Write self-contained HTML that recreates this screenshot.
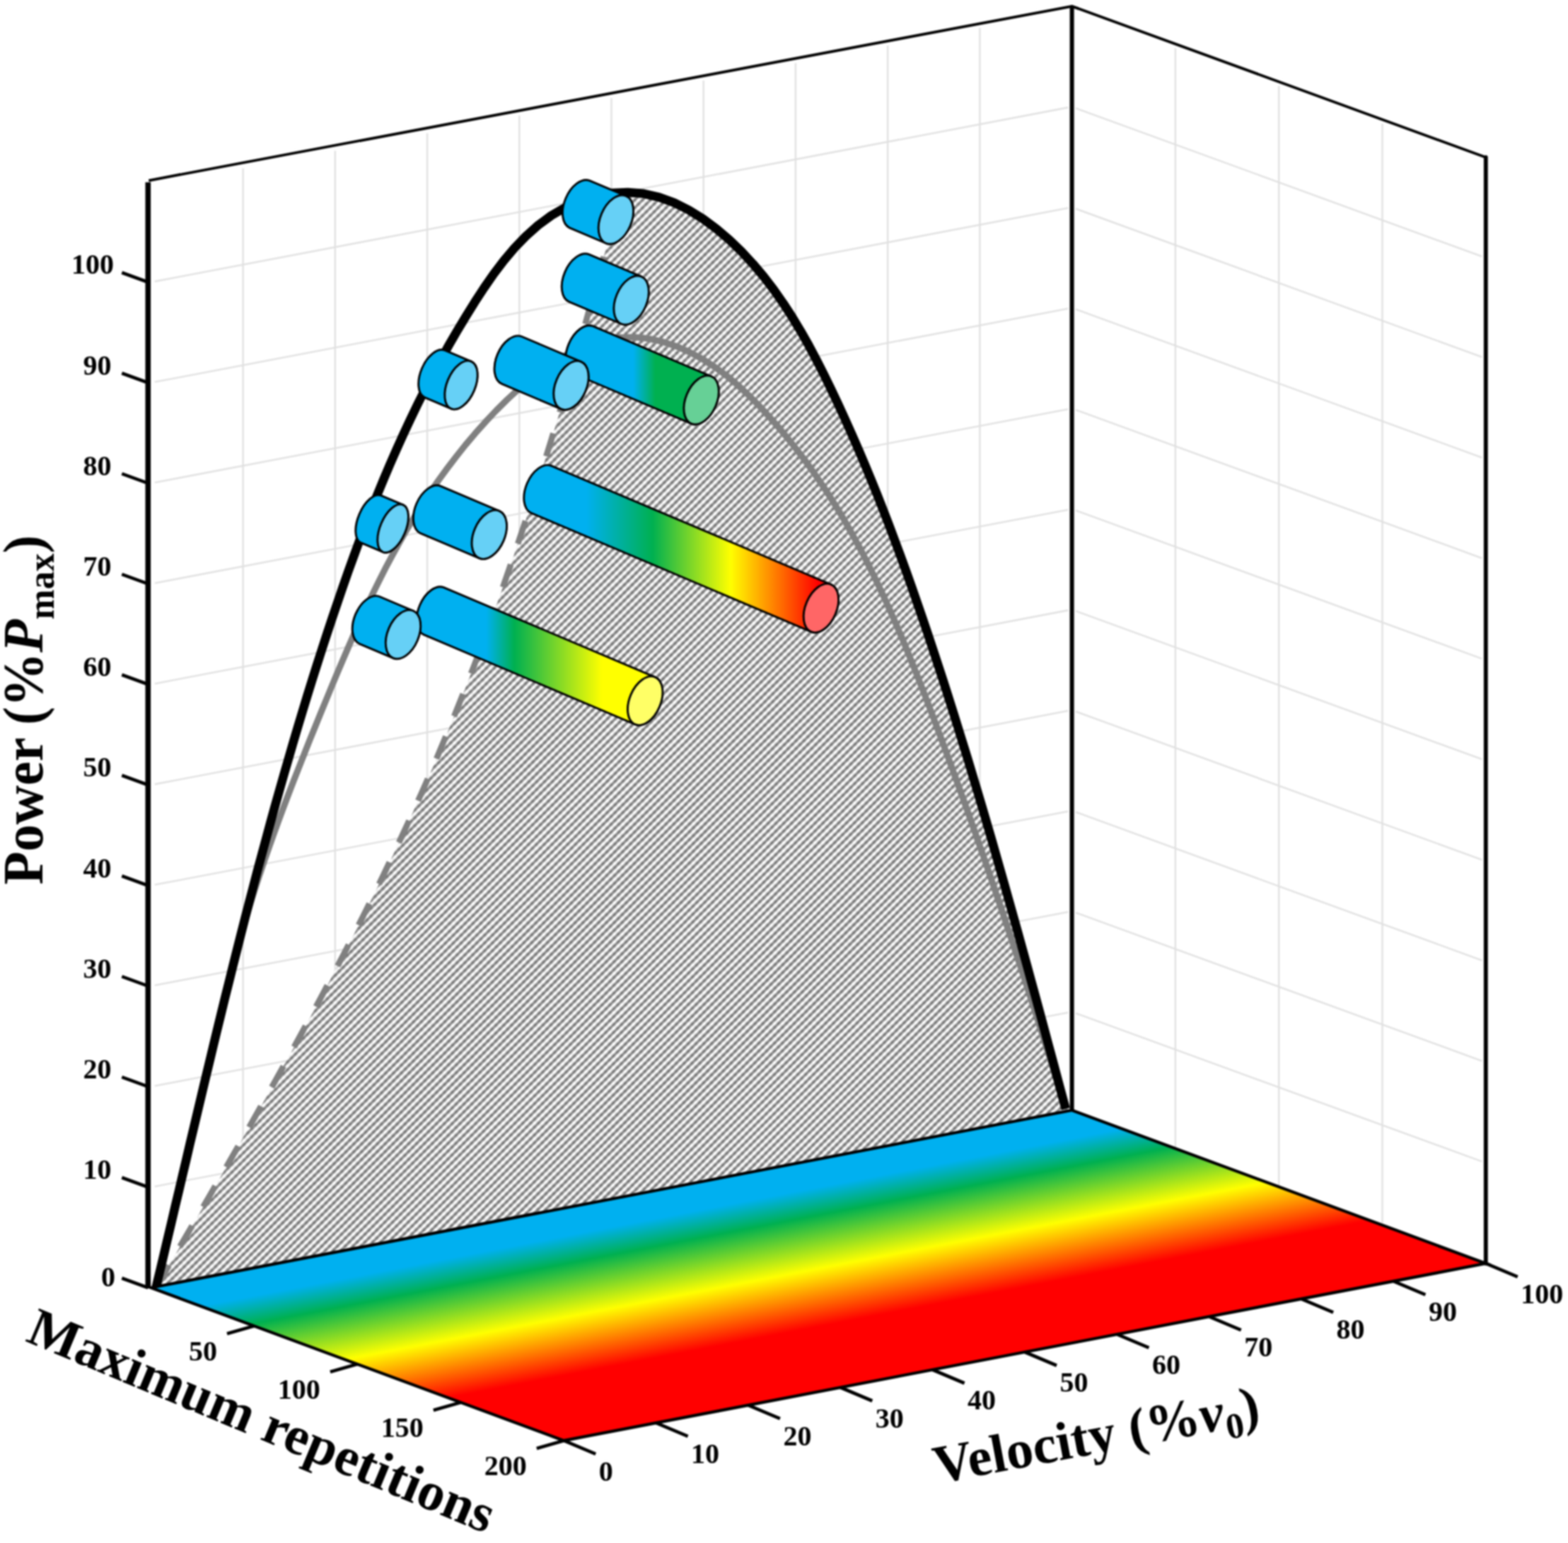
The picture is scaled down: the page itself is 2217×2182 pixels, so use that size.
<!DOCTYPE html>
<html lang="en"><head><meta charset="utf-8"><title>Power-velocity-repetitions</title>
<style>html,body{margin:0;padding:0;background:#fff}svg{display:block;filter:blur(0.8px)}</style></head>
<body>
<svg xmlns="http://www.w3.org/2000/svg" width="2217" height="2182" viewBox="0 0 2217 2182">
<defs><linearGradient id="gfloor" gradientUnits="userSpaceOnUse" x1="213.4" y1="1821.0" x2="274.3" y2="2137.7"><stop offset="0" stop-color="#00B0F0"/><stop offset="0.12" stop-color="#00B0F0"/><stop offset="0.24" stop-color="#00B050"/><stop offset="0.47" stop-color="#FFFF00"/><stop offset="0.72" stop-color="#FF0000"/><stop offset="1" stop-color="#FF0000"/></linearGradient>
<pattern id="hatch" patternUnits="userSpaceOnUse" width="7.9" height="7.8" patternTransform="rotate(-45)"><rect width="7.9" height="7.8" fill="#ececec"/><rect y="0" width="7.9" height="1.8" fill="#8e8e8e"/><rect y="6.0" width="7.9" height="1.8" fill="#8e8e8e"/><ellipse cx="0" cy="0" rx="2.6" ry="1.75" fill="#747474"/><ellipse cx="0" cy="7.8" rx="2.6" ry="1.75" fill="#747474"/><ellipse cx="7.9" cy="0" rx="2.6" ry="1.75" fill="#747474"/><ellipse cx="7.9" cy="7.8" rx="2.6" ry="1.75" fill="#747474"/><ellipse cx="3.95" cy="3.9" rx="2.6" ry="1.9" fill="#fff"/></pattern>
<filter id="soft" x="-2%" y="-2%" width="104%" height="104%"><feGaussianBlur stdDeviation="0.6"/></filter>
<linearGradient id="gc6" gradientUnits="userSpaceOnUse" x1="829.0" y1="0" x2="1157.0" y2="0"><stop offset="0.0000" stop-color="#00B0F0"/><stop offset="0.2866" stop-color="#00B050"/><stop offset="0.6220" stop-color="#FFFF00"/><stop offset="1.0000" stop-color="#FF0000"/></linearGradient>
<linearGradient id="gc9" gradientUnits="userSpaceOnUse" x1="687.5" y1="0" x2="851.0" y2="0"><stop offset="0.0000" stop-color="#00B0F0"/><stop offset="0.2440" stop-color="#00B050"/><stop offset="1.0000" stop-color="#FFFF00"/></linearGradient>
<linearGradient id="gc3" gradientUnits="userSpaceOnUse" x1="895.5" y1="0" x2="926.5" y2="0"><stop offset="0.0000" stop-color="#00B0F0"/><stop offset="1.0000" stop-color="#00B050"/></linearGradient></defs>
<rect width="2217" height="2182" fill="#fff"/>
<path d="M218.9,1677.8 L1510.1,1431.8 M1521.1,1432.8 L2095.3,1642.5 M218.9,1535.6 L1510.1,1289.6 M1521.1,1290.6 L2095.3,1500.3 M218.9,1393.4 L1510.1,1147.4 M1521.1,1148.4 L2095.3,1358.1 M218.9,1251.2 L1510.1,1005.2 M1521.1,1006.2 L2095.3,1215.9 M218.9,1109.0 L1510.1,863.0 M1521.1,864.0 L2095.3,1073.7 M218.9,966.8 L1510.1,720.8 M1521.1,721.8 L2095.3,931.5 M218.9,824.6 L1510.1,578.6 M1521.1,579.6 L2095.3,789.3 M218.9,682.4 L1510.1,436.4 M1521.1,437.4 L2095.3,647.1 M218.9,540.2 L1510.1,294.2 M1521.1,295.2 L2095.3,504.9 M218.9,398.0 L1510.1,152.0 M1521.1,153.0 L2095.3,362.7 M343.6,1792.2 L343.6,238.0 M473.8,1767.4 L473.8,213.2 M604.1,1742.6 L604.1,188.4 M734.3,1717.8 L734.3,163.6 M864.5,1693.0 L864.5,138.8 M994.7,1668.2 L994.7,114.0 M1124.9,1643.4 L1124.9,89.2 M1255.2,1618.6 L1255.2,64.4 M1385.4,1593.8 L1385.4,39.6 M1661.9,1622.4 L1661.9,68.2 M1808.2,1675.8 L1808.2,121.6 M1954.5,1729.3 L1954.5,175.1" fill="none" stroke="#e0e0e0" stroke-width="2.3"/>
<path d="M221.6,1818.8 L232.5,1800.3 L243.3,1781.8 L254.1,1763.4 L264.9,1744.9 L275.8,1726.4 L286.5,1707.9 L297.3,1689.3 L308.1,1670.8 L318.8,1652.3 L329.5,1633.7 L340.2,1615.1 L350.8,1596.5 L361.4,1577.9 L372.0,1559.2 L382.5,1540.6 L392.9,1521.9 L403.3,1503.1 L413.7,1484.4 L424.0,1465.6 L434.2,1446.8 L444.4,1428.0 L454.5,1409.2 L464.5,1390.3 L474.5,1371.3 L484.4,1352.4 L494.2,1333.4 L503.9,1314.4 L513.5,1295.3 L523.1,1276.2 L532.5,1257.1 L541.9,1237.9 L551.1,1218.7 L560.3,1199.4 L569.3,1180.1 L578.3,1160.7 L587.1,1141.3 L595.8,1121.9 L604.4,1102.4 L612.9,1082.8 L621.2,1063.2 L629.4,1043.6 L637.6,1023.9 L645.6,1004.2 L653.5,984.4 L661.3,964.5 L669.0,944.7 L676.6,924.8 L684.0,904.8 L691.4,884.8 L698.7,864.8 L705.9,844.8 L713.0,824.7 L720.0,804.5 L727.0,784.3 L733.8,764.1 L740.6,743.9 L747.2,723.7 L753.8,703.4 L760.4,683.0 L766.8,662.7 L773.2,642.3 L779.5,621.9 L785.7,601.5 L791.9,581.0 L798.0,560.5 L804.0,540.0 L810.0,519.5 L815.9,499.0 L821.8,478.4 L827.6,457.8 L833.3,437.2 L839.0,416.6 L844.7,396.0 L850.3,375.4 L855.9,354.7 L861.4,334.0 L866.9,313.4 L872.4,292.7 L877.8,272.0 L887.5,271.9 L910.0,273.8 L931.9,278.9 L953.2,286.7 L973.9,297.0 L993.8,309.4 L1012.9,323.5 L1031.1,339.0 L1048.3,355.6 L1064.4,372.9 L1079.6,390.9 L1093.8,409.4 L1107.2,428.5 L1119.9,448.0 L1131.9,467.9 L1143.4,488.2 L1154.3,508.7 L1164.9,529.5 L1175.1,550.4 L1185.0,571.4 L1194.7,592.5 L1204.2,613.7 L1213.5,635.0 L1222.6,656.4 L1231.5,677.8 L1240.2,699.4 L1248.7,721.0 L1257.0,742.6 L1265.2,764.4 L1273.3,786.2 L1281.2,808.0 L1289.0,829.9 L1296.6,851.9 L1304.2,873.9 L1311.7,896.0 L1319.0,918.0 L1326.3,940.2 L1333.5,962.3 L1340.6,984.5 L1347.7,1006.8 L1354.6,1029.0 L1361.5,1051.3 L1368.4,1073.6 L1375.1,1096.0 L1381.8,1118.3 L1388.5,1140.7 L1395.0,1163.1 L1401.6,1185.6 L1408.0,1208.0 L1414.4,1230.5 L1420.8,1253.0 L1427.1,1275.4 L1433.4,1297.9 L1439.7,1320.4 L1445.9,1343.0 L1452.1,1365.5 L1458.2,1388.0 L1464.4,1410.5 L1470.5,1433.0 L1476.6,1455.6 L1482.6,1478.1 L1488.7,1500.6 L1494.7,1523.1 L1500.7,1545.6 L1506.8,1568.1 L1515.6,1570.0 L217.4,1821.0 Z" fill="url(#hatch)" filter="url(#soft)"/>
<path d="M220.4,1821.0 L225.7,1801.0 L230.8,1781.0 L235.8,1760.9 L240.7,1740.9 L245.5,1720.8 L250.2,1700.7 L254.9,1680.5 L259.5,1660.4 L264.0,1640.3 L268.5,1620.1 L273.0,1600.0 L277.5,1579.8 L281.9,1559.7 L286.5,1539.6 L291.0,1519.4 L295.6,1499.3 L300.2,1479.2 L305.0,1459.2 L309.8,1439.1 L314.7,1419.1 L319.8,1399.1 L325.0,1379.1 L330.3,1359.2 L335.7,1339.3 L341.4,1319.4 L347.2,1299.6 L353.3,1279.8 L359.5,1260.1 L365.9,1240.4 L372.5,1220.8 L379.3,1201.2 L386.2,1181.7 L393.3,1162.2 L400.5,1142.8 L407.8,1123.4 L415.2,1104.1 L422.8,1084.8 L430.4,1065.6 L438.0,1046.4 L445.8,1027.3 L453.5,1008.2 L461.4,989.1 L469.2,970.1 L477.1,951.2 L485.1,932.4 L493.2,913.6 L501.4,894.9 L509.8,876.3 L518.4,857.7 L527.1,839.3 L536.2,821.0 L545.4,802.8 L555.0,784.8 L564.9,766.8 L575.1,749.0 L585.7,731.4 L596.7,713.9 L608.1,696.6 L619.9,679.4 L632.2,662.5 L645.0,645.7 L658.3,629.0 L672.2,612.6 L686.6,596.4 L701.6,580.5 L717.2,565.0 L733.2,550.2 L749.8,536.1 L766.9,523.1 L784.4,511.3 L802.3,501.0 L820.6,492.2 L839.3,485.2 L858.2,480.1 L877.5,477.3 L897.1,476.8 L916.8,478.8 L936.6,483.2 L956.2,489.7 L975.3,498.1 L993.6,508.0 L1011.2,519.4 L1028.0,531.9 L1044.0,545.4 L1059.4,559.8 L1074.2,574.7 L1088.4,590.1 L1102.1,605.8 L1115.2,621.6 L1127.9,637.6 L1140.2,653.8 L1152.0,670.3 L1163.4,687.0 L1174.5,704.0 L1185.2,721.2 L1195.6,738.7 L1205.6,756.5 L1215.4,774.5 L1224.8,792.6 L1234.0,811.0 L1242.9,829.5 L1251.6,848.2 L1260.1,867.0 L1268.4,886.0 L1276.5,905.1 L1284.4,924.2 L1292.1,943.5 L1299.8,962.8 L1307.3,982.2 L1314.7,1001.5 L1322.0,1020.9 L1329.3,1040.4 L1336.4,1059.8 L1343.6,1079.2 L1350.6,1098.6 L1357.6,1118.0 L1364.6,1137.4 L1371.5,1156.8 L1378.3,1176.2 L1385.1,1195.7 L1391.9,1215.1 L1398.6,1234.6 L1405.2,1254.0 L1411.8,1273.5 L1418.4,1293.0 L1424.9,1312.5 L1431.4,1332.0 L1437.8,1351.6 L1444.3,1371.1 L1450.6,1390.7 L1457.0,1410.3 L1463.3,1430.0 L1469.6,1449.6 L1475.9,1469.3 L1482.1,1489.0 L1488.3,1508.7 L1494.5,1528.5 L1500.7,1548.2 L1506.9,1568.1" fill="none" stroke="#808080" stroke-width="9" stroke-linejoin="round"/>
<path d="M221.6,1818.8 L232.5,1800.3 L243.3,1781.8 L254.1,1763.4 L264.9,1744.9 L275.8,1726.4 L286.5,1707.9 L297.3,1689.3 L308.1,1670.8 L318.8,1652.3 L329.5,1633.7 L340.2,1615.1 L350.8,1596.5 L361.4,1577.9 L372.0,1559.2 L382.5,1540.6 L392.9,1521.9 L403.3,1503.1 L413.7,1484.4 L424.0,1465.6 L434.2,1446.8 L444.4,1428.0 L454.5,1409.2 L464.5,1390.3 L474.5,1371.3 L484.4,1352.4 L494.2,1333.4 L503.9,1314.4 L513.5,1295.3 L523.1,1276.2 L532.5,1257.1 L541.9,1237.9 L551.1,1218.7 L560.3,1199.4 L569.3,1180.1 L578.3,1160.7 L587.1,1141.3 L595.8,1121.9 L604.4,1102.4 L612.9,1082.8 L621.2,1063.2 L629.4,1043.6 L637.6,1023.9 L645.6,1004.2 L653.5,984.4 L661.3,964.5 L669.0,944.7 L676.6,924.8 L684.0,904.8 L691.4,884.8 L698.7,864.8 L705.9,844.8 L713.0,824.7 L720.0,804.5 L727.0,784.3 L733.8,764.1 L740.6,743.9 L747.2,723.7 L753.8,703.4 L760.4,683.0 L766.8,662.7 L773.2,642.3 L779.5,621.9 L785.7,601.5 L791.9,581.0 L798.0,560.5 L804.0,540.0 L810.0,519.5 L815.9,499.0 L821.8,478.4 L827.6,457.8 L833.3,437.2 L839.0,416.6 L844.7,396.0 L850.3,375.4 L855.9,354.7 L861.4,334.0 L866.9,313.4 L872.4,292.7 L877.8,272.0" fill="none" stroke="#808080" stroke-width="8.5" stroke-dasharray="34 31" stroke-dashoffset="0" stroke-linejoin="round"/>
<path d="M220.5,1821.0 L225.9,1798.4 L231.3,1775.7 L236.6,1753.1 L242.0,1730.4 L247.3,1707.7 L252.7,1685.1 L258.0,1662.4 L263.4,1639.7 L268.7,1616.9 L274.1,1594.2 L279.5,1571.5 L284.9,1548.8 L290.3,1526.0 L295.8,1503.3 L301.2,1480.6 L306.7,1457.9 L312.3,1435.1 L317.8,1412.4 L323.5,1389.7 L329.1,1367.0 L334.8,1344.4 L340.5,1321.7 L346.3,1299.0 L352.2,1276.4 L358.1,1253.8 L364.0,1231.2 L370.1,1208.6 L376.2,1186.1 L382.3,1163.5 L388.5,1141.0 L394.8,1118.6 L401.2,1096.1 L407.7,1073.7 L414.2,1051.3 L420.8,1029.0 L427.5,1006.7 L434.3,984.4 L441.2,962.2 L448.2,940.0 L455.3,917.9 L462.5,895.8 L469.8,873.7 L477.3,851.7 L484.8,829.7 L492.5,807.8 L500.4,786.0 L508.4,764.2 L516.6,742.5 L525.0,720.9 L533.6,699.3 L542.4,677.8 L551.5,656.4 L560.9,635.1 L570.5,613.8 L580.4,592.7 L590.5,571.6 L601.0,550.7 L611.9,529.8 L623.0,509.1 L634.5,488.4 L646.4,467.9 L658.7,447.5 L671.3,427.2 L684.4,407.1 L698.0,387.5 L712.4,368.5 L727.6,350.5 L743.7,333.8 L760.9,318.5 L779.4,304.9 L799.2,293.4 L820.3,284.1 L842.3,277.2 L864.8,273.1 L887.5,271.9 L910.0,273.8 L931.9,278.9 L953.2,286.7 L973.9,297.0 L993.8,309.4 L1012.9,323.5 L1031.1,339.0 L1048.3,355.6 L1064.4,372.9 L1079.6,390.9 L1093.8,409.4 L1107.2,428.5 L1119.9,448.0 L1131.9,467.9 L1143.4,488.2 L1154.3,508.7 L1164.9,529.5 L1175.1,550.4 L1185.0,571.4 L1194.7,592.5 L1204.2,613.7 L1213.5,635.0 L1222.6,656.4 L1231.5,677.8 L1240.2,699.4 L1248.7,721.0 L1257.0,742.6 L1265.2,764.4 L1273.3,786.2 L1281.2,808.0 L1289.0,829.9 L1296.6,851.9 L1304.2,873.9 L1311.7,896.0 L1319.0,918.0 L1326.3,940.2 L1333.5,962.3 L1340.6,984.5 L1347.7,1006.8 L1354.6,1029.0 L1361.5,1051.3 L1368.4,1073.6 L1375.1,1096.0 L1381.8,1118.3 L1388.5,1140.7 L1395.0,1163.1 L1401.6,1185.6 L1408.0,1208.0 L1414.4,1230.5 L1420.8,1253.0 L1427.1,1275.4 L1433.4,1297.9 L1439.7,1320.4 L1445.9,1343.0 L1452.1,1365.5 L1458.2,1388.0 L1464.4,1410.5 L1470.5,1433.0 L1476.6,1455.6 L1482.6,1478.1 L1488.7,1500.6 L1494.7,1523.1 L1500.7,1545.6 L1506.8,1568.1" fill="none" stroke="#000" stroke-width="12.5" stroke-linejoin="round"/>
<path d="M213.4,1821.0 L1515.6,1570.0 L2100.8,1786.7 L797.2,2037.2 Z" fill="url(#gfloor)" stroke="#000" stroke-width="4.3" stroke-linejoin="miter"/>
<path d="M209.3,1822.0 L209.3,257.8" stroke="#000" stroke-width="7.6" fill="none"/>
<path d="M210.3,255.3 L1515.6,8.8 L2100.8,222.5" stroke="#000" stroke-width="3.9" fill="none" stroke-linejoin="round"/>
<path d="M1515.6,8.8 L1515.6,1570.0" stroke="#000" stroke-width="6" fill="none"/>
<path d="M2100.8,222.5 L2100.8,1786.7" stroke="#000" stroke-width="5.8" fill="none" stroke-linecap="round"/>
<path d="M209.3,1821.0 l-37,-13.5 M209.3,1678.8 l-37,-13.5 M209.3,1536.6 l-37,-13.5 M209.3,1394.4 l-37,-13.5 M209.3,1252.2 l-37,-13.5 M209.3,1110.0 l-37,-13.5 M209.3,967.8 l-37,-13.5 M209.3,825.6 l-37,-13.5 M209.3,683.4 l-37,-13.5 M209.3,541.2 l-37,-13.5 M209.3,399.0 l-37,-13.5 M359.4,1875.0 l-38.4,11 M505.3,1929.1 l-38.4,11 M651.2,1983.2 l-38.4,11 M797.2,2037.2 l-38.4,11 M797.2,2037.2 l45,19 M927.6,2012.2 l45,19 M1057.9,1987.1 l45,19 M1188.3,1962.0 l45,19 M1318.6,1937.0 l45,19 M1449.0,1912.0 l45,19 M1579.4,1886.9 l45,19 M1709.7,1861.9 l45,19 M1840.1,1836.8 l45,19 M1970.4,1811.8 l45,19 M2100.8,1786.7 l45,19" fill="none" stroke="#000" stroke-width="4.7"/>
<path d="M779.3,658.6 L1175.1,826.6 A22.0 36.3 23.0 0 1 1146.7,893.4 L750.9,725.4 A22.0 36.3 23.0 0 1 779.3,658.6 Z" fill="url(#gc6)" stroke="#000" stroke-width="2.9" stroke-linejoin="round"/>
<ellipse cx="1160.9" cy="860.0" rx="22.0" ry="36.3" transform="rotate(23.0 1160.9 860.0)" fill="#FF6666" stroke="#000" stroke-width="2.9"/>
<path d="M627.2,830.6 L926.4,957.6 A22.0 36.3 23.0 0 1 898.0,1024.4 L598.9,897.4 A22.0 36.3 23.0 0 1 627.2,830.6 Z" fill="url(#gc9)" stroke="#000" stroke-width="2.9" stroke-linejoin="round"/>
<ellipse cx="912.2" cy="991.0" rx="22.0" ry="36.3" transform="rotate(23.0 912.2 991.0)" fill="#FFFF66" stroke="#000" stroke-width="2.9"/>
<path d="M838.3,461.2 L1005.8,532.3 A22.0 36.3 23.0 0 1 977.4,599.1 L809.9,528.0 A22.0 36.3 23.0 0 1 838.3,461.2 Z" fill="url(#gc3)" stroke="#000" stroke-width="2.9" stroke-linejoin="round"/>
<ellipse cx="991.6" cy="565.7" rx="22.0" ry="36.3" transform="rotate(23.0 991.6 565.7)" fill="#66D096" stroke="#000" stroke-width="2.9"/>
<path d="M833.5,255.3 L885.1,277.2 A22.0 36.3 23.0 0 1 856.7,344.0 L805.2,322.1 A22.0 36.3 23.0 0 1 833.5,255.3 Z" fill="#00B0F0" stroke="#000" stroke-width="2.9" stroke-linejoin="round"/>
<ellipse cx="870.9" cy="310.6" rx="22.0" ry="36.3" transform="rotate(23.0 870.9 310.6)" fill="#66D0F6" stroke="#000" stroke-width="2.9"/>
<path d="M833.1,359.9 L906.8,391.2 A22.0 36.3 23.0 0 1 878.4,458.0 L804.8,426.8 A22.0 36.3 23.0 0 1 833.1,359.9 Z" fill="#00B0F0" stroke="#000" stroke-width="2.9" stroke-linejoin="round"/>
<ellipse cx="892.6" cy="424.6" rx="22.0" ry="36.3" transform="rotate(23.0 892.6 424.6)" fill="#66D0F6" stroke="#000" stroke-width="2.9"/>
<path d="M737.9,476.0 L821.7,511.6 A22.0 36.3 23.0 0 1 793.3,578.4 L709.6,542.9 A22.0 36.3 23.0 0 1 737.9,476.0 Z" fill="#00B0F0" stroke="#000" stroke-width="2.9" stroke-linejoin="round"/>
<ellipse cx="807.5" cy="545.0" rx="22.0" ry="36.3" transform="rotate(23.0 807.5 545.0)" fill="#66D0F6" stroke="#000" stroke-width="2.9"/>
<path d="M628.4,495.1 L666.2,511.1 A20.0 36.3 23.0 0 1 637.8,577.9 L600.1,561.9 A20.0 36.3 23.0 0 1 628.4,495.1 Z" fill="#00B0F0" stroke="#000" stroke-width="2.9" stroke-linejoin="round"/>
<ellipse cx="652.0" cy="544.5" rx="20.0" ry="36.3" transform="rotate(23.0 652.0 544.5)" fill="#66D0F6" stroke="#000" stroke-width="2.9"/>
<path d="M622.9,687.3 L706.0,722.6 A22.0 36.3 23.0 0 1 677.6,789.4 L594.5,754.1 A22.0 36.3 23.0 0 1 622.9,687.3 Z" fill="#00B0F0" stroke="#000" stroke-width="2.9" stroke-linejoin="round"/>
<ellipse cx="691.8" cy="756.0" rx="22.0" ry="36.3" transform="rotate(23.0 691.8 756.0)" fill="#66D0F6" stroke="#000" stroke-width="2.9"/>
<path d="M538.5,700.6 L569.8,713.9 A18.0 36.3 23.0 0 1 541.4,780.7 L510.1,767.4 A18.0 36.3 23.0 0 1 538.5,700.6 Z" fill="#00B0F0" stroke="#000" stroke-width="2.9" stroke-linejoin="round"/>
<ellipse cx="555.6" cy="747.3" rx="18.0" ry="36.3" transform="rotate(23.0 555.6 747.3)" fill="#66D0F6" stroke="#000" stroke-width="2.9"/>
<path d="M536.3,843.5 L584.2,863.8 A22.0 36.3 23.0 0 1 555.8,930.6 L508.0,910.3 A22.0 36.3 23.0 0 1 536.3,843.5 Z" fill="#00B0F0" stroke="#000" stroke-width="2.9" stroke-linejoin="round"/>
<ellipse cx="570.0" cy="897.2" rx="22.0" ry="36.3" transform="rotate(23.0 570.0 897.2)" fill="#66D0F6" stroke="#000" stroke-width="2.9"/>
<g font-family="'Liberation Serif', serif" font-weight="bold" font-size="40" fill="#000"><text x="163.0" y="1819.4" text-anchor="end">0</text><text x="157.6" y="1667.2" text-anchor="end">10</text><text x="157.6" y="1525.0" text-anchor="end">20</text><text x="157.6" y="1382.8" text-anchor="end">30</text><text x="157.6" y="1240.6" text-anchor="end">40</text><text x="157.6" y="1098.4" text-anchor="end">50</text><text x="157.6" y="956.2" text-anchor="end">60</text><text x="157.6" y="814.0" text-anchor="end">70</text><text x="157.6" y="671.8" text-anchor="end">80</text><text x="157.6" y="529.6" text-anchor="end">90</text><text x="161.0" y="387.4" text-anchor="end">100</text><text x="306.9" y="1923.5" text-anchor="end">50</text><text x="452.8" y="1977.5" text-anchor="end">100</text><text x="598.8" y="2031.6" text-anchor="end">150</text><text x="744.7" y="2085.6" text-anchor="end">200</text><text x="846.7" y="2093.6">0</text><text x="977.1" y="2068.6">10</text><text x="1107.4" y="2043.5">20</text><text x="1237.8" y="2018.5">30</text><text x="1368.1" y="1993.4">40</text><text x="1498.5" y="1968.4">50</text><text x="1628.9" y="1943.3">60</text><text x="1759.2" y="1918.3">70</text><text x="1889.6" y="1893.2">80</text><text x="2019.9" y="1868.2">90</text><text x="2150.3" y="1843.1">100</text></g>
<g font-family="'Liberation Serif', serif" font-weight="bold" font-size="76.6" fill="#000"><text transform="translate(60,1251) rotate(-90) scale(1,1.04)">Power (%<tspan font-style="italic">P</tspan><tspan font-size="51" dy="15">max</tspan><tspan dy="-15">)</tspan></text><text transform="translate(34.5,1896) rotate(22.7)">Maximum repetitions</text><text transform="translate(1325,2098) rotate(-10.7)">Velocity (%<tspan font-style="italic">v</tspan><tspan font-size="51" dy="15">0</tspan><tspan dy="-15">)</tspan></text></g>
</svg>
</body></html>
